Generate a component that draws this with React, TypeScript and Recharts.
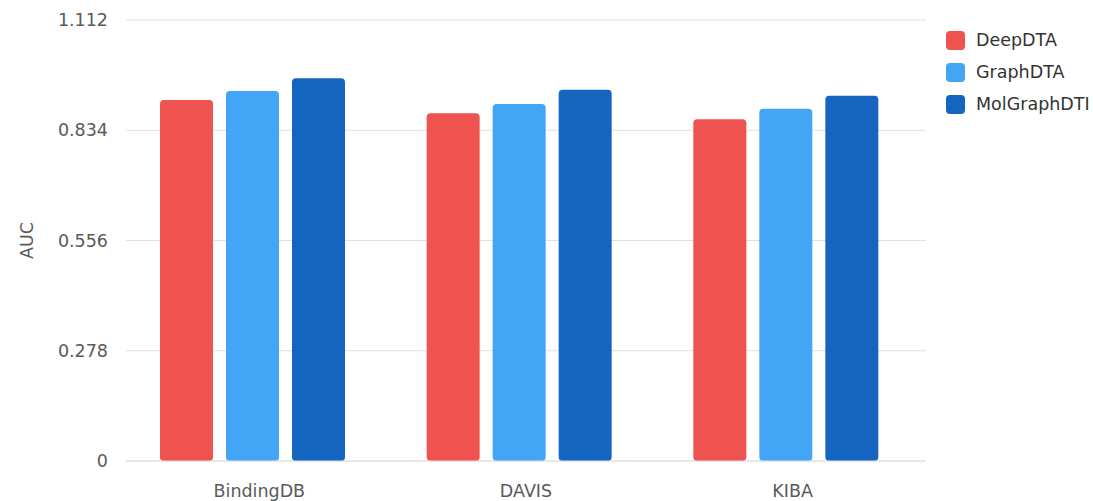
import React from 'react';
import { BarChart, Bar, XAxis, YAxis, CartesianGrid, Legend } from 'recharts';

const categories = ['BindingDB', 'DAVIS', 'KIBA'];
const deepDTA = [0.91, 0.877, 0.862];
const graphDTA = [0.933, 0.9, 0.888];
const molGraphDTI = [0.965, 0.936, 0.921];
const yTicks = [0, 0.278, 0.556, 0.834, 1.112];

const series = [
  { key: 'DeepDTA', values: deepDTA, color: '#EF5350' },
  { key: 'GraphDTA', values: graphDTA, color: '#42A5F5' },
  { key: 'MolGraphDTI', values: molGraphDTI, color: '#1565C0' }
];

const data = categories.map((name, i) => {
  const row: Record<string, string | number> = { name };
  series.forEach((s) => {
    row[s.key] = s.values[i];
  });
  return row;
});

const FONT = '"DejaVu Sans", sans-serif';

const LegendBox = () => (
  <div style={{ fontFamily: FONT }}>
    {series.map((s) => (
      <div key={s.key} style={{ display: 'flex', alignItems: 'center', height: 32 }}>
        <span style={{
          width: 19,
          height: 19,
          borderRadius: 4,
          backgroundColor: s.color,
          display: 'inline-block',
          marginRight: 11
        }} />
        <span style={{ fontSize: 17.5, color: '#333' }}>{s.key}</span>
      </div>
    ))}
  </div>
);

export default function App() {
  return (
    <div style={{ position: 'absolute', left: 0, top: 0, width: 1093, height: 501, background: '#fff' }}>
      <BarChart
        width={1093}
        height={501}
        data={data}
        margin={{ top: 20, right: 167, bottom: 0, left: 0 }}
        barGap={13}
      >
        <CartesianGrid vertical={false} stroke="#e0e0e0" />
        <XAxis
          dataKey="name"
          height={40}
          axisLine={{ stroke: '#e0e0e0' }}
          tickLine={false}
          tickMargin={18}
          tick={{ fill: '#5a5a5a', fontSize: 17.5, fontFamily: FONT }}
        />
        <YAxis
          width={126}
          domain={[0, 1.112]}
          ticks={yTicks}
          tickFormatter={(v: number) => String(v)}
          axisLine={false}
          tickLine={false}
          tickMargin={12}
          tick={{ fill: '#5a5a5a', fontSize: 17.5, fontFamily: FONT }}
          label={{ value: 'AUC', angle: -90, position: 'center', dx: -36, fill: '#5a5a5a', fontSize: 17.5, fontFamily: FONT }}
        />
        <Legend
          layout="vertical"
          align="center"
          verticalAlign="middle"
          wrapperStyle={{ left: 946, top: 24, width: 150 }}
          content={<LegendBox />}
        />
        {series.map((s) => (
          <Bar
            key={s.key}
            dataKey={s.key}
            fill={s.color}
            barSize={53}
            radius={4}
            isAnimationActive={false}
          />
        ))}
        <Bar dataKey="pad" barSize={0} legendType="none" isAnimationActive={false} />
      </BarChart>
    </div>
  );
}
